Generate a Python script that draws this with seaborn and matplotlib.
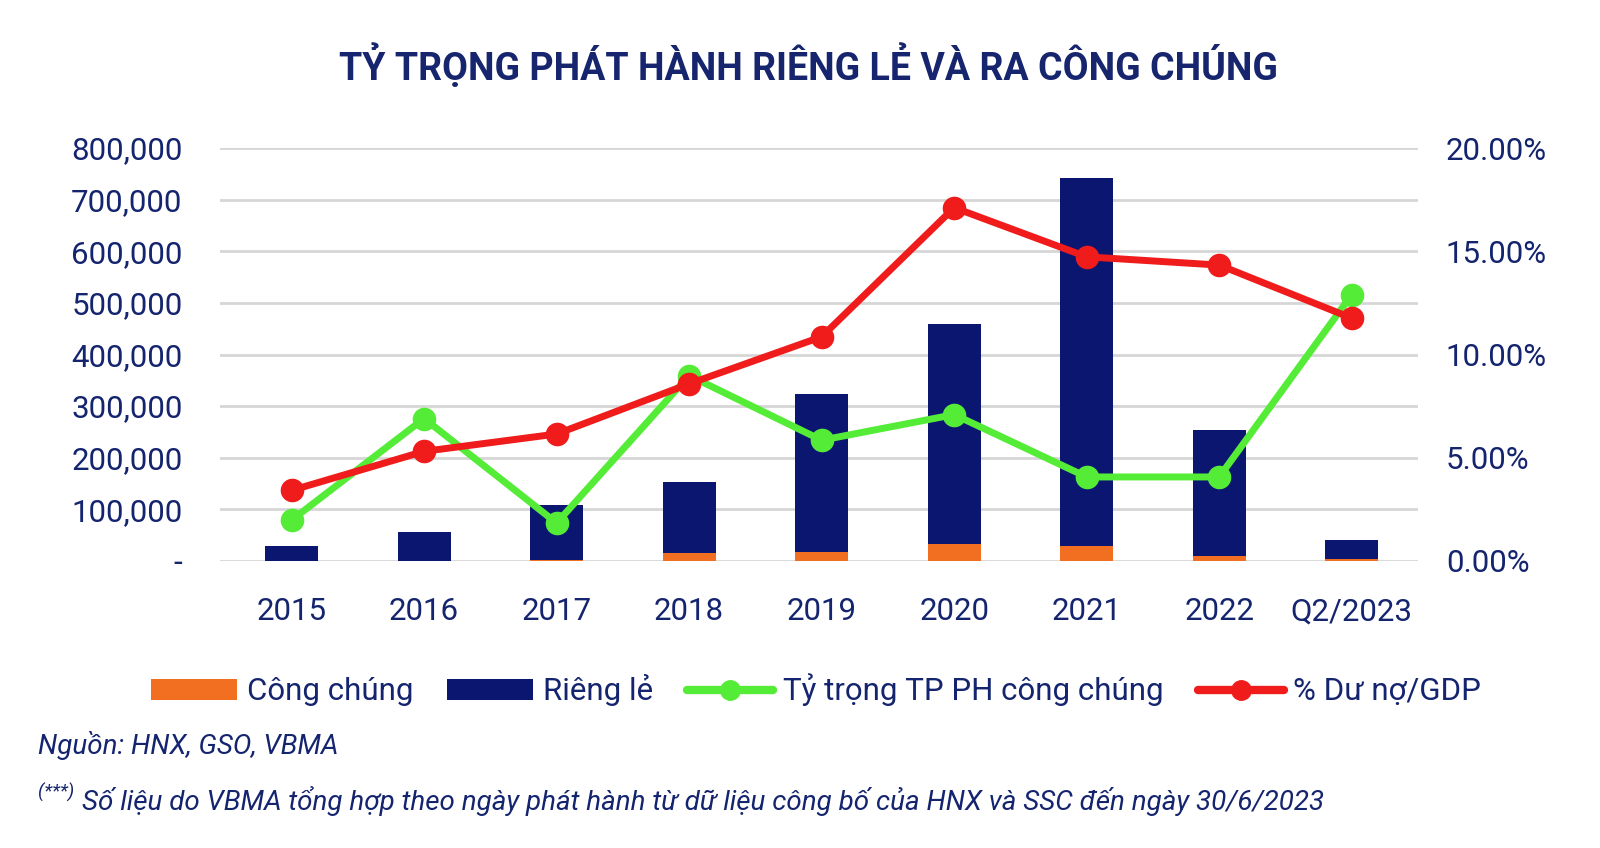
import numpy as np
import pandas as pd
import matplotlib
matplotlib.use("Agg")
import matplotlib.pyplot as plt
import seaborn as sns
from matplotlib.patches import Patch
from matplotlib.lines import Line2D
from matplotlib.ticker import FuncFormatter

# ---------------- data ----------------
categories = ["2015", "2016", "2017", "2018", "2019", "2020", "2021", "2022", "Q2/2023"]
cong_chung = [500, 800, 1000, 15000, 18000, 32000, 30000, 9000, 3000]
rieng_le = [29500, 55200, 108000, 138000, 305000, 428000, 712000, 245000, 37000]
ty_trong_cong_chung = [1.98, 6.9, 1.84, 8.98, 5.85, 7.09, 4.07, 4.07, 12.9]
du_no_gdp = [3.42, 5.31, 6.15, 8.58, 10.86, 17.11, 14.73, 14.33, 11.76]

title = "TỶ TRỌNG PHÁT HÀNH RIÊNG LẺ VÀ RA CÔNG CHÚNG"
legend_labels = ["Công chúng", "Riêng lẻ", "Tỷ trọng TP PH công chúng", "% Dư nợ/GDP"]
source_text = "Nguồn: HNX, GSO, VBMA"
note_text = "Số liệu do VBMA tổng hợp theo ngày phát hành từ dữ liệu công bố của HNX và SSC đến ngày 30/6/2023"

# ---------------- style ----------------
sns.set_theme(style="white")
plt.rcParams["font.family"] = ["Roboto", "DejaVu Sans"]

NAVY = "#0b1670"
ORANGE = "#f26f21"
GREEN = "#55ec38"
RED = "#f01c1c"
TXT = "#14246e"
GRID = "#d6d6d6"

fig = plt.figure(figsize=(16, 8.48), dpi=100)
ax = fig.add_axes([220 / 1600, 1 - 561 / 848, (1418 - 220) / 1600, (561 - 148) / 848])

df = pd.DataFrame({
    "cat": categories,
    "total": np.array(cong_chung) + np.array(rieng_le),
    "cong": cong_chung,
})

sns.barplot(data=df, x="cat", y="total", color=NAVY, width=0.4, saturation=1,
            ax=ax, zorder=3, linewidth=0)
sns.barplot(data=df, x="cat", y="cong", color=ORANGE, width=0.4, saturation=1,
            ax=ax, zorder=4, linewidth=0)

ax.set_ylim(0, 800000)
ax.set_xlim(-0.54, 8.5)
ax.set_yticks(np.arange(0, 800001, 100000))
ax.yaxis.set_major_formatter(FuncFormatter(lambda v, p: "-" if v == 0 else f"{int(v):,}"))
ax.grid(axis="y", color=GRID, linewidth=2, zorder=0)
ax.grid(axis="x", visible=False)
ax.set_axisbelow(True)
for s in ax.spines.values():
    s.set_visible(False)
ax.set_xlabel("")
ax.set_ylabel("")
ax.tick_params(axis="y", labelsize=22.5, labelcolor=TXT, length=0, pad=27)
ax.tick_params(axis="x", labelsize=22.5, labelcolor=TXT, length=0, pad=26)

ax2 = ax.twinx()
xs = np.arange(len(categories))
sns.lineplot(x=xs, y=ty_trong_cong_chung, ax=ax2, color=GREEN, linewidth=5,
             marker="o", markersize=17, markeredgewidth=0, sort=False, zorder=5)
sns.lineplot(x=xs, y=du_no_gdp, ax=ax2, color=RED, linewidth=5,
             marker="o", markersize=17, markeredgewidth=0, sort=False, zorder=6)
ax2.set_ylim(0, 20)
ax2.set_yticks(np.arange(0, 20.01, 5))
ax2.yaxis.set_major_formatter(FuncFormatter(lambda v, p: f"{v:.2f}%"))
ax2.tick_params(axis="y", labelsize=22.5, labelcolor=TXT, length=0, pad=20)
ax2.grid(False)
for s in ax2.spines.values():
    s.set_visible(False)
ax2.set_xlim(-0.54, 8.5)

fig.text(0.505, 1 - 66 / 848, title, ha="center", va="center", fontsize=27,
         fontweight="bold", color="#16256e")

handles = [
    Patch(facecolor=ORANGE, edgecolor="none"),
    Patch(facecolor=NAVY, edgecolor="none"),
    Line2D([0], [0], color=GREEN, linewidth=6, marker="o", markersize=14),
    Line2D([0], [0], color=RED, linewidth=6, marker="o", markersize=14),
]
fig.legend(handles, legend_labels, loc="center", bbox_to_anchor=(0.51, 1 - 690 / 848),
           ncol=4, frameon=False, fontsize=22.5, labelcolor=TXT, handlelength=2.75,
           handleheight=0.65, handletextpad=0.3, columnspacing=1.1)

fig.text(38 / 1600, 1 - 746 / 848, source_text, ha="left", va="center", fontsize=20,
         style="italic", color=TXT)
fig.text(38 / 1600, 1 - 792 / 848, "(***)", ha="left", va="center", fontsize=13.5,
         style="italic", color=TXT)
fig.text(82 / 1600, 1 - 801 / 848, note_text, ha="left", va="center", fontsize=20,
         style="italic", color=TXT)

fig.savefig("out.png", dpi=100, facecolor="white")
